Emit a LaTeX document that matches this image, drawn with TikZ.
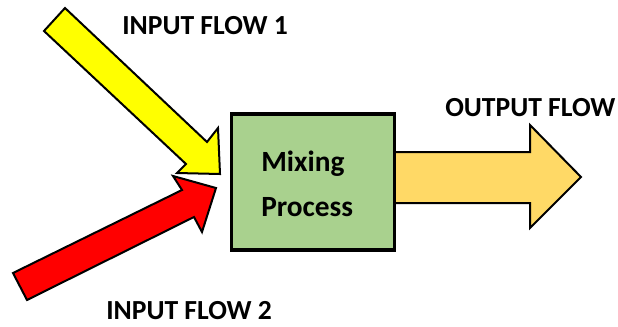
\documentclass[tikz,border=0pt]{standalone}
\usepackage{fontspec}
\setmainfont{Carlito}
\definecolor{flowyellow}{HTML}{FFFF00}
\definecolor{flowred}{HTML}{FF0000}
\definecolor{boxgreen}{HTML}{A9D18E}
\definecolor{outgold}{HTML}{FFD966}
\begin{document}
\begin{tikzpicture}[x=0.75pt,y=-0.75pt,
  lbl/.style={font=\fontsize{20.7}{24}\selectfont\bfseries, inner sep=0pt, anchor=base west},
  boxtxt/.style={font=\fontsize{22}{26}\selectfont\bfseries, inner sep=0pt, anchor=base west},
  blockarrow/.style={draw=black, line width=1.5pt, line join=miter},
  procbox/.style={draw=black, line width=2.4pt, fill=boxgreen, minimum width=122pt, minimum height=102pt, inner sep=0pt}]
\useasboundingbox (0,0) rectangle (618,326);
% output arrow (under the box)
\path[blockarrow, fill=outgold] (392,152) -- (530,152) -- (530,125) -- (581,177) -- (530,228) -- (530,203) -- (392,203) -- cycle;
% process box
\node[procbox] (mix) at (313,182) {};
% red input arrow
\path[blockarrow, fill=flowred] (13,273) -- (182,190) -- (173,176) -- (216,188) -- (202,232) -- (194,217) -- (27,300) -- cycle;
% yellow input arrow
\path[blockarrow, fill=flowyellow] (65,8) -- (207,142) -- (218,128) -- (220,174) -- (177,173) -- (186,164) -- (44,31) -- cycle;
% texts
\node[boxtxt] (t1) at (261,171) {Mixing};
\node[boxtxt] (t2) at (261,216) {Process};
\node[lbl] (in1) at (122,34) {INPUT FLOW 1};
\node[lbl] (in2) at (106,319) {INPUT FLOW 2};
\node[lbl] (out) at (445,116) {OUTPUT FLOW};
\end{tikzpicture}
\end{document}
